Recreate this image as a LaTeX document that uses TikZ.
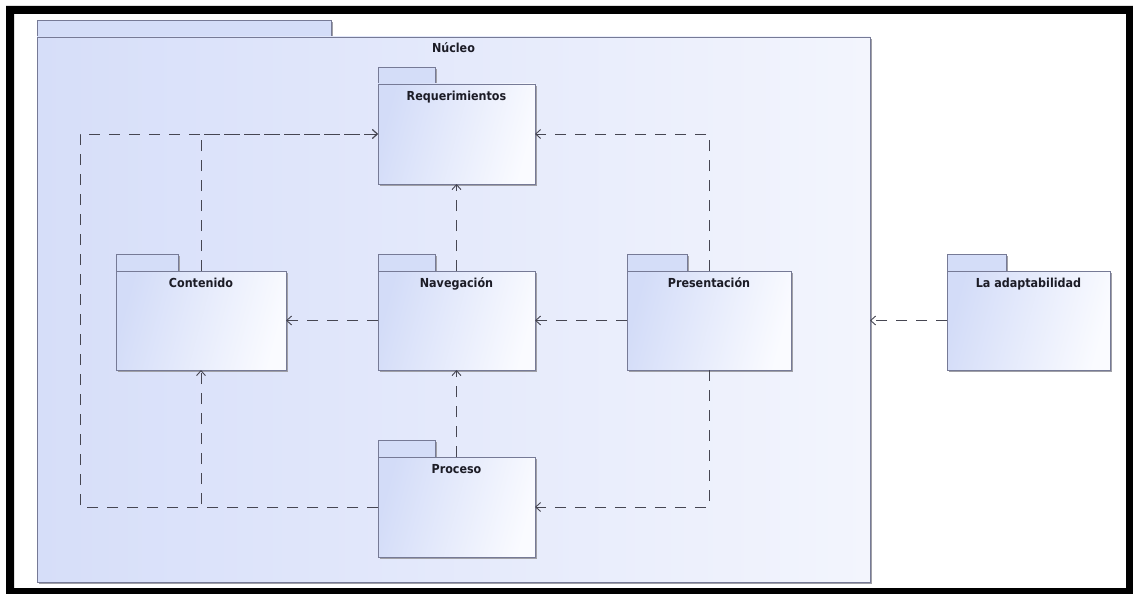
\documentclass[tikz,border=0pt]{standalone}
\usepackage{fontspec}
\setmainfont{DejaVu Sans Condensed}
\usetikzlibrary{arrows.meta,shadows}

\definecolor{pkgborder}{RGB}{118,122,150}
\definecolor{pkgshadow}{RGB}{160,160,166}
\definecolor{pkgblue}{RGB}{211,220,248}
\definecolor{pkgwhite}{RGB}{250,251,255}
\definecolor{coreblue}{RGB}{214,222,249}
\definecolor{corewhite}{RGB}{243,245,253}
\definecolor{tabblue}{RGB}{212,221,248}
\definecolor{deplinecol}{RGB}{70,70,82}
\definecolor{labeltext}{RGB}{28,28,38}

\tikzset{
  pkgshade/.style={draw=pkgborder, line width=0.9pt,
    drop shadow={shadow xshift=2pt, shadow yshift=-2pt, fill=pkgshadow, opacity=1}},
  pkgbody/.style={pkgshade, left color=pkgblue, right color=pkgwhite,
    shading angle=75, inner sep=0pt, outer sep=0pt, rectangle},
  corebody/.style={pkgbody, left color=coreblue, right color=corewhite},
  pkgtab/.style={pkgshade, fill=tabblue},
  pkglabel/.style={font=\bfseries\fontsize{12.4}{14}\selectfont, text=labeltext,
    inner sep=0pt, anchor=base},
  dep/.style={draw=deplinecol, line width=0.9pt, dash pattern=on 11pt off 9pt,
    -{Straight Barb[length=5pt,width=9pt]}},
}

% #1 name, #2 left, #3 top, #4 width, #5 height, #6 tab width, #7 title, #8 body style
\newcommand\umlpackage[8]{%
  \draw[pkgtab] (#2,#3-17) rectangle ++(#6,17);
  \node[#8, minimum width=#4, minimum height=#5, anchor=north west] (#1) at (#2,#3) {};
  \node[pkglabel] (#1-title) at ([yshift=-16pt]#1.north) {#7};
}

\begin{document}
\begin{tikzpicture}[x=1pt,y=-1pt]
\useasboundingbox (0,0) rectangle (1133,594);
\fill[white] (0,0) rectangle (1133,594);
% window frame
\fill[black, even odd rule] (6,6) rectangle (1133,594) (14,14) rectangle (1126,588);

% outer package
\umlpackage{nucleo}{37}{37}{833}{545}{294}{Núcleo}{corebody}

% inner packages
\umlpackage{req}{378}{84}{157}{100}{57}{Requerimientos}{pkgbody}
\umlpackage{cont}{116}{271}{170}{99}{62}{Contenido}{pkgbody}
\umlpackage{nav}{378}{271}{157}{99}{57}{Navegación}{pkgbody}
\umlpackage{pres}{627}{271}{164}{99}{60}{Presentación}{pkgbody}
\umlpackage{proc}{378}{457}{157}{100}{57}{Proceso}{pkgbody}

% external package
\umlpackage{adapt}{947}{271}{163}{99}{59}{La adaptabilidad}{pkgbody}

% dependencies
\coordinate (leftbend) at (80,134);
\draw[dep] (cont.north) |- (req.west);
\draw[dep] (proc.west) -| (leftbend) -- (req.west);
\draw[dep] (proc.west) -| (cont.south);
\draw[dep] (nav.west) -- (cont.east);
\draw[dep] (nav.north) -- (req.south);
\draw[dep] (proc.north) -- (nav.south);
\draw[dep] (pres.west) -- (nav.east);
\draw[dep] (pres.north) |- (req.east);
\draw[dep] (pres.south) |- (proc.east);
\draw[dep] (adapt.west) -- (nucleo.east |- adapt.west);
\end{tikzpicture}
\end{document}
